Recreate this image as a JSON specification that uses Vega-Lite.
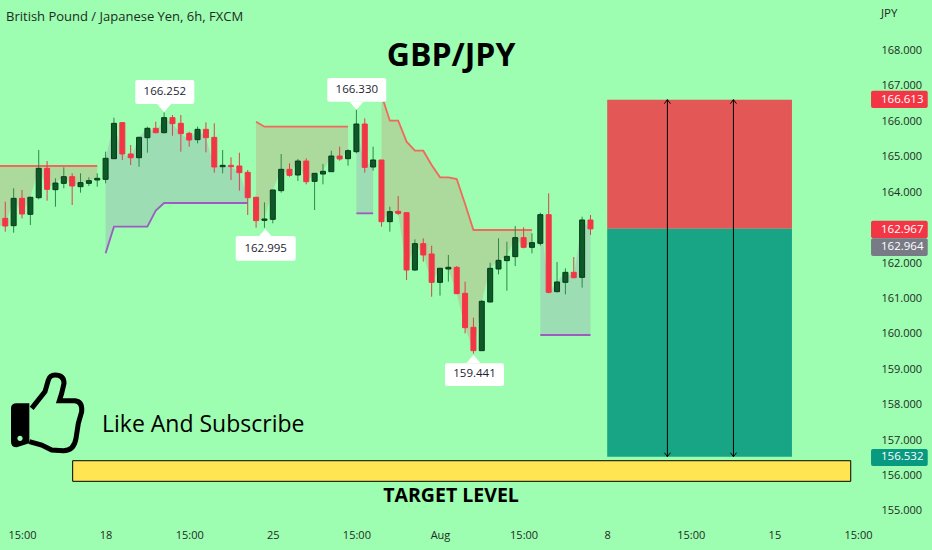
{
  "$schema": "https://vega.github.io/schema/vega-lite/v6.json",
  "autosize": {"type": "none"},
  "padding": 0,
  "width": 932,
  "height": 550,
  "background": "#9dfdb0",
  "config": {"view": {"stroke": null}, "text": {"font": "Open Sans"}, "axis": {"labelFont": "Open Sans"}},
  "resolve": {"scale": {"color": "independent"}},
  "datasets": {
    "candles": [
      {"i":-2,"open":163.262,"high":163.732,"low":162.885,"close":163.045},
      {"i":-1,"open":163.055,"high":164.109,"low":162.857,"close":163.826},
      {"i":0,"open":163.826,"high":164.062,"low":163.262,"close":163.384},
      {"i":1,"open":163.375,"high":163.873,"low":163.074,"close":163.855},
      {"i":2,"open":163.845,"high":165.191,"low":163.798,"close":164.673},
      {"i":3,"open":164.673,"high":164.88,"low":163.761,"close":164.08},
      {"i":4,"open":164.071,"high":164.391,"low":163.591,"close":164.259},
      {"i":5,"open":164.25,"high":164.702,"low":164.109,"close":164.438},
      {"i":6,"open":164.438,"high":164.532,"low":163.638,"close":164.175},
      {"i":7,"open":164.156,"high":164.532,"low":163.986,"close":164.269},
      {"i":8,"open":164.25,"high":164.419,"low":164.175,"close":164.325},
      {"i":9,"open":164.344,"high":164.532,"low":164.156,"close":164.391},
      {"i":10,"open":164.363,"high":165.144,"low":164.25,"close":164.956},
      {"i":11,"open":164.946,"high":166.104,"low":164.937,"close":165.944},
      {"i":12,"open":165.963,"high":165.972,"low":164.909,"close":165.078},
      {"i":13,"open":165.078,"high":165.332,"low":164.767,"close":164.974},
      {"i":14,"open":164.974,"high":165.567,"low":164.72,"close":165.548},
      {"i":15,"open":165.539,"high":165.85,"low":165.116,"close":165.803},
      {"i":16,"open":165.803,"high":165.991,"low":165.661,"close":165.68},
      {"i":17,"open":165.68,"high":166.252,"low":165.661,"close":166.104},
      {"i":18,"open":166.104,"high":166.179,"low":165.596,"close":165.934},
      {"i":19,"open":165.944,"high":166.179,"low":165.144,"close":165.652},
      {"i":20,"open":165.661,"high":165.708,"low":165.285,"close":165.473},
      {"i":21,"open":165.483,"high":165.85,"low":165.379,"close":165.774},
      {"i":22,"open":165.774,"high":165.972,"low":165.125,"close":165.539},
      {"i":23,"open":165.548,"high":165.944,"low":164.551,"close":164.711},
      {"i":24,"open":164.72,"high":165.191,"low":164.532,"close":164.758},
      {"i":25,"open":164.758,"high":164.984,"low":164.344,"close":164.72},
      {"i":26,"open":164.739,"high":165.116,"low":164.043,"close":164.551},
      {"i":27,"open":164.56,"high":164.626,"low":163.356,"close":163.845},
      {"i":28,"open":163.855,"high":163.873,"low":162.998,"close":163.196},
      {"i":29,"open":163.205,"high":163.713,"low":162.995,"close":163.243},
      {"i":30,"open":163.234,"high":164.062,"low":163.121,"close":164.062},
      {"i":31,"open":164.043,"high":165.078,"low":163.986,"close":164.645},
      {"i":32,"open":164.645,"high":164.815,"low":164.438,"close":164.476},
      {"i":33,"open":164.485,"high":164.937,"low":164.316,"close":164.88},
      {"i":34,"open":164.88,"high":164.956,"low":164.222,"close":164.297},
      {"i":35,"open":164.306,"high":164.532,"low":163.497,"close":164.532},
      {"i":36,"open":164.513,"high":164.796,"low":164.222,"close":164.589},
      {"i":37,"open":164.579,"high":165.172,"low":164.579,"close":165.021},
      {"i":38,"open":165.021,"high":165.285,"low":164.89,"close":164.937},
      {"i":39,"open":164.946,"high":165.21,"low":164.749,"close":165.172},
      {"i":40,"open":165.144,"high":166.33,"low":165.097,"close":165.925},
      {"i":41,"open":165.925,"high":166.085,"low":164.551,"close":164.702},
      {"i":42,"open":164.711,"high":165.285,"low":164.607,"close":164.909},
      {"i":43,"open":164.909,"high":164.909,"low":163.027,"close":163.168},
      {"i":44,"open":163.168,"high":163.591,"low":162.885,"close":163.45},
      {"i":45,"open":163.459,"high":163.892,"low":163.356,"close":163.403},
      {"i":46,"open":163.422,"high":163.422,"low":161.521,"close":161.803},
      {"i":47,"open":161.803,"high":162.669,"low":161.775,"close":162.547},
      {"i":48,"open":162.547,"high":162.697,"low":162.039,"close":162.227},
      {"i":49,"open":162.255,"high":162.49,"low":161.05,"close":161.455},
      {"i":50,"open":161.455,"high":161.869,"low":161.079,"close":161.85},
      {"i":51,"open":161.832,"high":162.227,"low":161.474,"close":161.879},
      {"i":52,"open":161.879,"high":161.916,"low":161.126,"close":161.135},
      {"i":53,"open":161.145,"high":161.474,"low":160.015,"close":160.175},
      {"i":54,"open":160.185,"high":160.458,"low":159.441,"close":159.526},
      {"i":55,"open":159.526,"high":160.956,"low":159.526,"close":160.919},
      {"i":56,"open":160.9,"high":162.01,"low":160.891,"close":161.85},
      {"i":57,"open":161.832,"high":162.697,"low":161.681,"close":162.076},
      {"i":58,"open":162.067,"high":162.603,"low":161.22,"close":162.189},
      {"i":59,"open":162.18,"high":163.045,"low":161.916,"close":162.716},
      {"i":60,"open":162.716,"high":163.008,"low":162.415,"close":162.443},
      {"i":61,"open":162.443,"high":162.838,"low":162.274,"close":162.575},
      {"i":62,"open":162.556,"high":163.422,"low":162.49,"close":163.365},
      {"i":63,"open":163.365,"high":163.968,"low":161.145,"close":161.173},
      {"i":64,"open":161.192,"high":162.029,"low":161.173,"close":161.465},
      {"i":65,"open":161.455,"high":161.85,"low":161.116,"close":161.737},
      {"i":66,"open":161.737,"high":162.17,"low":161.568,"close":161.587},
      {"i":67,"open":161.596,"high":163.309,"low":161.305,"close":163.215},
      {"i":68,"open":163.215,"high":163.356,"low":162.791,"close":162.964}
    ],
    "zones": [
      {"zone":"A","kind":"supply","i":-2.632,"line":164.739,"base":163.045},
      {"zone":"A","kind":"supply","i":-2,"line":164.739,"base":163.045},
      {"zone":"A","kind":"supply","i":-1,"line":164.739,"base":163.826},
      {"zone":"A","kind":"supply","i":0,"line":164.739,"base":163.384},
      {"zone":"A","kind":"supply","i":1,"line":164.739,"base":163.855},
      {"zone":"A","kind":"supply","i":2,"line":164.739,"base":164.673},
      {"zone":"A","kind":"supply","i":3,"line":164.739,"base":164.08},
      {"zone":"A","kind":"supply","i":4,"line":164.739,"base":164.259},
      {"zone":"A","kind":"supply","i":5,"line":164.739,"base":164.438},
      {"zone":"A","kind":"supply","i":6,"line":164.739,"base":164.175},
      {"zone":"A","kind":"supply","i":7,"line":164.739,"base":164.269},
      {"zone":"A","kind":"supply","i":8,"line":164.739,"base":164.325},
      {"zone":"A","kind":"supply","i":9,"line":164.739,"base":164.391},
      {"zone":"B","kind":"demand","i":10,"line":162.274,"base":164.956},
      {"zone":"B","kind":"demand","i":11,"line":163.027,"base":165.944},
      {"zone":"B","kind":"demand","i":12,"line":163.027,"base":165.078},
      {"zone":"B","kind":"demand","i":13,"line":163.027,"base":164.974},
      {"zone":"B","kind":"demand","i":14,"line":163.027,"base":165.548},
      {"zone":"B","kind":"demand","i":15,"line":163.027,"base":165.803},
      {"zone":"B","kind":"demand","i":16,"line":163.478,"base":165.68},
      {"zone":"B","kind":"demand","i":17,"line":163.695,"base":166.104},
      {"zone":"B","kind":"demand","i":18,"line":163.695,"base":165.934},
      {"zone":"B","kind":"demand","i":19,"line":163.695,"base":165.652},
      {"zone":"B","kind":"demand","i":20,"line":163.695,"base":165.473},
      {"zone":"B","kind":"demand","i":21,"line":163.695,"base":165.774},
      {"zone":"B","kind":"demand","i":22,"line":163.695,"base":165.539},
      {"zone":"B","kind":"demand","i":23,"line":163.695,"base":164.711},
      {"zone":"B","kind":"demand","i":24,"line":163.695,"base":164.758},
      {"zone":"B","kind":"demand","i":25,"line":163.695,"base":164.72},
      {"zone":"B","kind":"demand","i":26,"line":163.695,"base":164.551},
      {"zone":"B","kind":"demand","i":27,"line":163.695,"base":163.845},
      {"zone":"C","kind":"supply","i":28,"line":165.991,"base":163.196},
      {"zone":"C","kind":"supply","i":29,"line":165.85,"base":163.243},
      {"zone":"C","kind":"supply","i":30,"line":165.85,"base":164.062},
      {"zone":"C","kind":"supply","i":31,"line":165.85,"base":164.645},
      {"zone":"C","kind":"supply","i":32,"line":165.85,"base":164.476},
      {"zone":"C","kind":"supply","i":33,"line":165.85,"base":164.88},
      {"zone":"C","kind":"supply","i":34,"line":165.85,"base":164.297},
      {"zone":"C","kind":"supply","i":35,"line":165.85,"base":164.532},
      {"zone":"C","kind":"supply","i":36,"line":165.85,"base":164.589},
      {"zone":"C","kind":"supply","i":37,"line":165.85,"base":165.021},
      {"zone":"C","kind":"supply","i":38,"line":165.85,"base":164.937},
      {"zone":"C","kind":"supply","i":39,"line":165.85,"base":165.172},
      {"zone":"D","kind":"demand","i":40,"line":163.403,"base":165.925},
      {"zone":"D","kind":"demand","i":41,"line":163.403,"base":164.702},
      {"zone":"D","kind":"demand","i":42,"line":163.403,"base":164.909},
      {"zone":"E","kind":"supply","i":43,"line":166.743,"base":163.168},
      {"zone":"E","kind":"supply","i":44,"line":166.019,"base":163.45},
      {"zone":"E","kind":"supply","i":45,"line":166.019,"base":163.403},
      {"zone":"E","kind":"supply","i":46,"line":165.426,"base":161.803},
      {"zone":"E","kind":"supply","i":47,"line":165.172,"base":162.547},
      {"zone":"E","kind":"supply","i":48,"line":165.172,"base":162.227},
      {"zone":"E","kind":"supply","i":49,"line":164.767,"base":161.455},
      {"zone":"E","kind":"supply","i":50,"line":164.419,"base":161.85},
      {"zone":"E","kind":"supply","i":51,"line":164.419,"base":161.832},
      {"zone":"E","kind":"supply","i":52,"line":164.372,"base":161.135},
      {"zone":"E","kind":"supply","i":53,"line":163.667,"base":160.175},
      {"zone":"E","kind":"supply","i":54,"line":162.932,"base":159.526},
      {"zone":"E","kind":"supply","i":55,"line":162.932,"base":160.919},
      {"zone":"E","kind":"supply","i":56,"line":162.932,"base":161.85},
      {"zone":"E","kind":"supply","i":57,"line":162.932,"base":162.076},
      {"zone":"E","kind":"supply","i":58,"line":162.932,"base":162.189},
      {"zone":"E","kind":"supply","i":59,"line":162.932,"base":162.716},
      {"zone":"E","kind":"supply","i":60,"line":162.932,"base":162.443},
      {"zone":"E","kind":"supply","i":61,"line":162.932,"base":162.575},
      {"zone":"F","kind":"demand","i":62,"line":159.968,"base":163.365},
      {"zone":"F","kind":"demand","i":63,"line":159.968,"base":161.173},
      {"zone":"F","kind":"demand","i":64,"line":159.968,"base":161.465},
      {"zone":"F","kind":"demand","i":65,"line":159.968,"base":161.737},
      {"zone":"F","kind":"demand","i":66,"line":159.968,"base":161.587},
      {"zone":"F","kind":"demand","i":67,"line":159.968,"base":163.215},
      {"zone":"F","kind":"demand","i":68,"line":159.968,"base":162.964}
    ],
    "position": [
      {"side":"stop","a":70,"b":92.1,"top":166.613,"bottom":162.967},
      {"side":"target","a":70,"b":92.1,"top":162.967,"bottom":156.532}
    ],
    "callouts": [
      {"label":"166.252","i":17.08,"p":166.828,"a":13.55,"b":20.61,"top":167.167,"bottom":166.49},
      {"label":"162.995","i":29.15,"p":162.41,"a":25.56,"b":32.74,"top":162.763,"bottom":162.065},
      {"label":"166.330","i":40.05,"p":166.899,"a":36.52,"b":43.57,"top":167.224,"bottom":166.554},
      {"label":"159.441","i":54.13,"p":158.853,"a":50.6,"b":57.66,"top":159.169,"bottom":158.528}
    ],
    "badges": [
      {"label":"166.613","kind":"stop","i":102.75,"a":101.56,"b":108.34,"p":166.613,"top":166.865,"bottom":166.377},
      {"label":"162.967","kind":"stop","i":102.75,"a":101.56,"b":108.34,"p":162.946,"top":163.195,"bottom":162.698},
      {"label":"162.964","kind":"last","i":102.75,"a":101.56,"b":108.34,"p":162.448,"top":162.698,"bottom":162.198},
      {"label":"156.532","kind":"target","i":102.75,"a":101.56,"b":108.34,"p":156.51,"top":156.75,"bottom":156.27}
    ]
  },
  "encoding": {
    "x": {
      "field": "i",
      "type": "quantitative",
      "scale": {"domain": [-2.632, 108.852], "nice": false, "zero": false, "padding": 0},
      "axis": {
        "title": null,
        "orient": "bottom",
        "offset": -21,
        "values": [0, 10, 20, 30, 40, 50, 60, 70, 80, 90, 100],
        "labelExpr": "['15:00','18','15:00','25','15:00','Aug','15:00','8','15:00','15','15:00'][datum.value / 10]",
        "labelFontSize": 11,
        "labelColor": "#1e2b24",
        "labelPadding": 0,
        "labelOverlap": false,
        "labelBound": false,
        "labelFlush": false,
        "ticks": false,
        "domain": false,
        "grid": false
      }
    },
    "y": {
      "field": "p",
      "type": "quantitative",
      "scale": {"domain": [153.898, 169.426], "nice": false, "zero": false},
      "axis": {
        "title": null,
        "orient": "right",
        "offset": -51,
        "values": [155, 156, 157, 158, 159, 160, 161, 162, 163, 164, 165, 166, 167, 168],
        "format": ".3f",
        "labelFontSize": 11,
        "labelColor": "#1e2b24",
        "labelPadding": 0,
        "labelAlign": "left",
        "labelOverlap": false,
        "labelBound": false,
        "ticks": false,
        "domain": false,
        "grid": false
      }
    }
  },
  "layer": [
    {
      "data": {"name": "zones"},
      "mark": {"type": "area", "opacity": 0.18},
      "encoding": {
        "y": {"field": "line", "type": "quantitative"},
        "y2": {"field": "base"},
        "detail": {"field": "zone"},
        "color": {"field": "kind", "type": "nominal", "legend": null, "scale": {"domain": ["supply", "demand"], "range": ["#f23645", "#9c4fc4"]}}
      }
    },
    {
      "data": {"name": "zones"},
      "mark": {"type": "line", "strokeWidth": 1.8},
      "encoding": {
        "y": {"field": "line", "type": "quantitative"},
        "detail": {"field": "zone"},
        "color": {"field": "kind", "type": "nominal", "legend": null, "scale": {"domain": ["supply", "demand"], "range": ["#ef6a5c", "#9c5cc0"]}}
      }
    },
    {
      "data": {"name": "candles"},
      "mark": {"type": "rule", "strokeWidth": 1},
      "encoding": {
        "y": {"field": "low", "type": "quantitative"},
        "y2": {"field": "high"},
        "color": {"condition": {"test": "datum.close < datum.open", "value": "#d8434f"}, "value": "#2b8a47"}
      }
    },
    {
      "data": {"name": "candles"},
      "mark": {"type": "bar", "size": 5, "strokeWidth": 1},
      "encoding": {
        "y": {"field": "open", "type": "quantitative"},
        "y2": {"field": "close"},
        "color": {"condition": {"test": "datum.close < datum.open", "value": "#f23645"}, "value": "#0d5a28"},
        "stroke": {"condition": {"test": "datum.close < datum.open", "value": "#f23645"}, "value": "#083a1a"}
      }
    },
    {
      "data": {"name": "position"},
      "mark": {"type": "rect"},
      "encoding": {
        "x": {"field": "a", "type": "quantitative"},
        "x2": {"field": "b"},
        "y": {"field": "top", "type": "quantitative"},
        "y2": {"field": "bottom"},
        "color": {"field": "side", "type": "nominal", "legend": null, "scale": {"domain": ["stop", "target"], "range": ["#e35757", "#17a585"]}}
      }
    },
    {
      "data": {"values": [{"i": 77.2, "top": 166.613, "bottom": 156.532}, {"i": 85.1, "top": 166.613, "bottom": 156.532}]},
      "mark": {"type": "rule", "color": "#000000", "strokeWidth": 1},
      "encoding": {
        "y": {"field": "top", "type": "quantitative"},
        "y2": {"field": "bottom"}
      }
    },
    {
      "data": {"values": [{"i": 77.2, "p": 166.613}, {"i": 85.1, "p": 166.613}]},
      "mark": {"type": "point", "shape": "M-3,4L0,0L3,4", "size": 4, "filled": false, "stroke": "#000000", "strokeWidth": 1, "opacity": 1}
    },
    {
      "data": {"values": [{"i": 77.2, "p": 156.532}, {"i": 85.1, "p": 156.532}]},
      "mark": {"type": "point", "shape": "M-3,-4L0,0L3,-4", "size": 4, "filled": false, "stroke": "#000000", "strokeWidth": 1, "opacity": 1}
    },
    {
      "data": {"values": [{"a": 6.06, "b": 99.13, "top": 156.419, "bottom": 155.837}]},
      "mark": {"type": "rect", "fill": "#ffe552", "stroke": "#000000", "strokeWidth": 1},
      "encoding": {
        "x": {"field": "a", "type": "quantitative"},
        "x2": {"field": "b"},
        "y": {"field": "top", "type": "quantitative"},
        "y2": {"field": "bottom"}
      }
    },
    {
      "data": {"name": "callouts"},
      "mark": {"type": "rect", "fill": "#ffffff", "cornerRadius": 2},
      "encoding": {
        "x": {"field": "a", "type": "quantitative"},
        "x2": {"field": "b"},
        "y": {"field": "top", "type": "quantitative"},
        "y2": {"field": "bottom"}
      }
    },
    {
      "data": {"values": [{"i": 17, "p": 166.377}, {"i": 40, "p": 166.442}]},
      "mark": {"type": "point", "shape": "M-7,-4L7,-4L0,4Z", "size": 4, "filled": true, "fill": "#ffffff", "opacity": 1}
    },
    {
      "data": {"values": [{"i": 29.1, "p": 162.848}, {"i": 54, "p": 159.29}]},
      "mark": {"type": "point", "shape": "M-7,4L7,4L0,-4Z", "size": 4, "filled": true, "fill": "#ffffff", "opacity": 1}
    },
    {
      "data": {"name": "callouts"},
      "mark": {"type": "text", "fontSize": 11.5, "color": "#1c2430", "baseline": "middle", "align": "center"},
      "encoding": {"text": {"field": "label"}}
    },
    {
      "data": {"name": "badges"},
      "mark": {"type": "rect", "cornerRadius": 2},
      "encoding": {
        "x": {"field": "a", "type": "quantitative"},
        "x2": {"field": "b"},
        "y": {"field": "top", "type": "quantitative"},
        "y2": {"field": "bottom"},
        "color": {"field": "kind", "type": "nominal", "legend": null, "scale": {"domain": ["stop", "last", "target"], "range": ["#f23645", "#787b86", "#089981"]}}
      }
    },
    {
      "data": {"name": "badges"},
      "mark": {"type": "text", "fontSize": 11.5, "color": "#ffffff", "baseline": "middle", "align": "left"},
      "encoding": {"text": {"field": "label"}}
    },
    {
      "data": {"values": [{"label": "British Pound / Japanese Yen, 6h, FXCM", "i": -1.914, "p": 168.946}]},
      "mark": {"type": "text", "fontSize": 13, "color": "#1e2b24", "baseline": "middle", "align": "left"},
      "encoding": {"text": {"field": "label"}}
    },
    {
      "data": {"values": [{"label": "JPY", "i": 102.75, "p": 169.03}]},
      "mark": {"type": "text", "fontSize": 11.5, "color": "#1e2b24", "baseline": "middle", "align": "left"},
      "encoding": {"text": {"field": "label"}}
    },
    {
      "data": {"values": [{"label": "GBP/JPY", "i": 51.32, "p": 167.845}]},
      "mark": {"type": "text", "fontSize": 32, "fontWeight": "bold", "color": "#000000", "baseline": "middle", "align": "center"},
      "encoding": {"text": {"field": "label"}}
    },
    {
      "data": {"values": [{"label": "TARGET LEVEL", "i": 51.32, "p": 155.422}]},
      "mark": {"type": "text", "fontSize": 19.5, "fontWeight": "bold", "color": "#000000", "baseline": "middle", "align": "center"},
      "encoding": {"text": {"field": "label"}}
    },
    {
      "data": {"values": [{"label": "Like And Subscribe", "i": 9.57, "p": 157.427}]},
      "mark": {"type": "text", "fontSize": 23, "color": "#000000", "baseline": "middle", "align": "left"},
      "encoding": {"text": {"field": "label"}}
    },
    {
      "data": {"values": [{"i": 1.555, "p": 157.427}]},
      "mark": {"type": "point", "shape": "M-55,-65L-17,-65L-17,55L-55,67Q-72,67 -72,50L-72,-50Q-72,-65 -55,-65ZM-53,40a8,8 0 1,0 16,0a8,8 0 1,0 -16,0Z", "size": 0.4444, "filled": true, "fill": "#000000", "opacity": 1}
    },
    {
      "data": {"values": [{"i": 1.555, "p": 157.427}]},
      "mark": {"type": "point", "shape": "M-10,-50L30,-100L40,-135Q45,-150 60,-150Q87,-150 87,-125L80,-95L73,-73L120,-73Q143,-70 140,-40L130,-5L123,40Q117,77 85,77L50,75L20,60L-17,50", "size": 0.4444, "filled": false, "stroke": "#000000", "strokeWidth": 5, "opacity": 1}
    }
  ]
}
